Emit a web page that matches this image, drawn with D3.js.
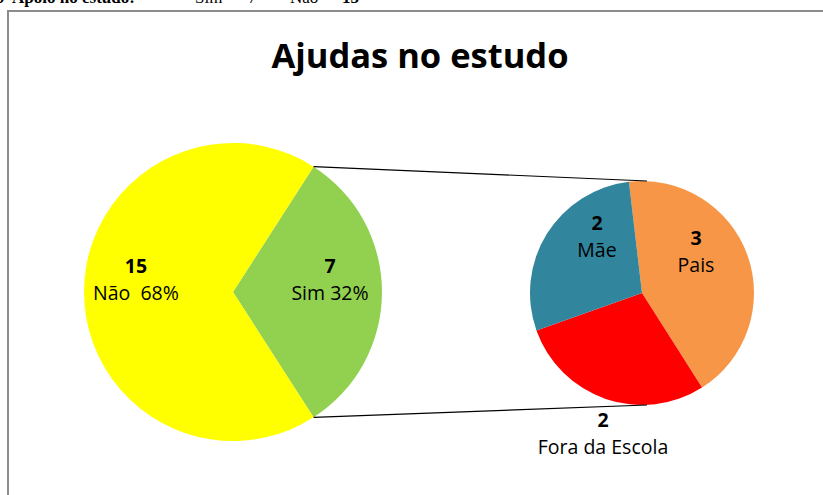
<!DOCTYPE html>
<html>
<head>
<meta charset="utf-8">
<script src="https://cdn.jsdelivr.net/npm/d3@7"></script>
<style>
  html, body { margin: 0; padding: 0; background: #fff; overflow: hidden; }
  svg { display: block; }
</style>
</head>
<body>
<svg id="chart" width="823" height="495"></svg>
<script>
// dados do grafico
const mainLabels = ["Sim", "Não"];
const mainValues = [7, 15];
const mainColors = ["#92D050", "#FFFF00"];

const subLabels = ["Pais", "Fora da Escola", "Mãe"];
const subValues = [3, 2, 2];
const subColors = ["#F79646", "#FF0000", "#31859C"];

const headerTexts = [
  { t: "9  Apoio no estudo:", x: -4, bold: true },
  { t: "Sim  –  7", x: 195, bold: false },
  { t: "Não  –", x: 290, bold: false },
  { t: "15", x: 342, bold: true }
];

const svg = d3.select("#chart");
const font = "'Open Sans', Lato, sans-serif";

// texto cortado em cima (pagina do documento)
svg.selectAll("text.head")
  .data(headerTexts)
  .enter()
  .append("text")
  .attr("class", "head")
  .attr("x", d => d.x)
  .attr("y", 3)
  .attr("font-family", "'Liberation Serif', serif")
  .attr("font-size", 17)
  .attr("font-weight", d => d.bold ? "bold" : "normal")
  .attr("xml:space", "preserve")
  .text(d => d.t);

// moldura do grafico
svg.append("rect")
  .attr("x", 8)
  .attr("y", 11)
  .attr("width", 830)
  .attr("height", 500)
  .attr("fill", "none")
  .attr("stroke", "#8c8c8c")
  .attr("stroke-width", 2);

// titulo
svg.append("text")
  .attr("x", 420)
  .attr("y", 68)
  .attr("text-anchor", "middle")
  .attr("font-family", font)
  .attr("font-size", 34.5)
  .attr("font-weight", "bold")
  .text("Ajudas no estudo");

// pizza principal
const cx1 = 233, cy1 = 292, r1 = 149;
const total1 = d3.sum(mainValues);
const simAngle = 2 * Math.PI * mainValues[0] / total1;
const pie1 = d3.pie().sort(null)
  .startAngle(Math.PI / 2 - simAngle / 2)
  .endAngle(Math.PI / 2 - simAngle / 2 + 2 * Math.PI);
const arc1 = d3.arc().innerRadius(0).outerRadius(r1);
const arcs1 = pie1(mainValues);

const g1 = svg.append("g").attr("transform", `translate(${cx1},${cy1})`);
g1.selectAll("path")
  .data(arcs1)
  .enter()
  .append("path")
  .attr("d", arc1)
  .attr("fill", (d, i) => mainColors[i]);

// pizza secundaria
const cx2 = 642, cy2 = 293, r2 = 112;
const startSub = -6.7 * Math.PI / 180;
const pie2 = d3.pie().sort(null)
  .startAngle(startSub)
  .endAngle(startSub + 2 * Math.PI);
const arc2 = d3.arc().innerRadius(0).outerRadius(r2);
const arcs2 = pie2(subValues);

const g2 = svg.append("g").attr("transform", `translate(${cx2},${cy2})`);
g2.selectAll("path")
  .data(arcs2)
  .enter()
  .append("path")
  .attr("d", arc2)
  .attr("fill", (d, i) => subColors[i]);

// linhas de ligacao
const simArc = arcs1[0];
const p1 = [cx1 + r1 * Math.sin(simArc.startAngle), cy1 - r1 * Math.cos(simArc.startAngle)];
const p2 = [cx1 + r1 * Math.sin(simArc.endAngle), cy1 - r1 * Math.cos(simArc.endAngle)];
svg.append("line")
  .attr("x1", p1[0]).attr("y1", p1[1])
  .attr("x2", cx2 + 5).attr("y2", cy2 - r2)
  .attr("stroke", "#000").attr("stroke-width", 1.2);
svg.append("line")
  .attr("x1", p2[0]).attr("y1", p2[1])
  .attr("x2", cx2 + 5).attr("y2", cy2 + r2)
  .attr("stroke", "#000").attr("stroke-width", 1.2);

// rotulos
const pct = v => Math.round(100 * v / total1) + "%";
const labels = [
  { n: mainValues[1], s: mainLabels[1] + "  " + pct(mainValues[1]), x: 136, y: 273 },
  { n: mainValues[0], s: mainLabels[0] + " " + pct(mainValues[0]), x: 330, y: 273 },
  { n: subValues[2], s: subLabels[2], x: 597, y: 230 },
  { n: subValues[0], s: subLabels[0], x: 696, y: 245 },
  { n: subValues[1], s: subLabels[1], x: 603, y: 427 }
];

const lg = svg.selectAll("g.lbl")
  .data(labels)
  .enter()
  .append("g")
  .attr("class", "lbl")
  .attr("font-family", font)
  .attr("font-size", 19.5)
  .attr("text-anchor", "middle");

lg.append("text")
  .attr("x", d => d.x)
  .attr("y", d => d.y)
  .attr("font-weight", "bold")
  .text(d => d.n);

lg.append("text")
  .attr("x", d => d.x)
  .attr("y", d => d.y + 27)
  .attr("xml:space", "preserve")
  .text(d => d.s);
</script>
</body>
</html>
